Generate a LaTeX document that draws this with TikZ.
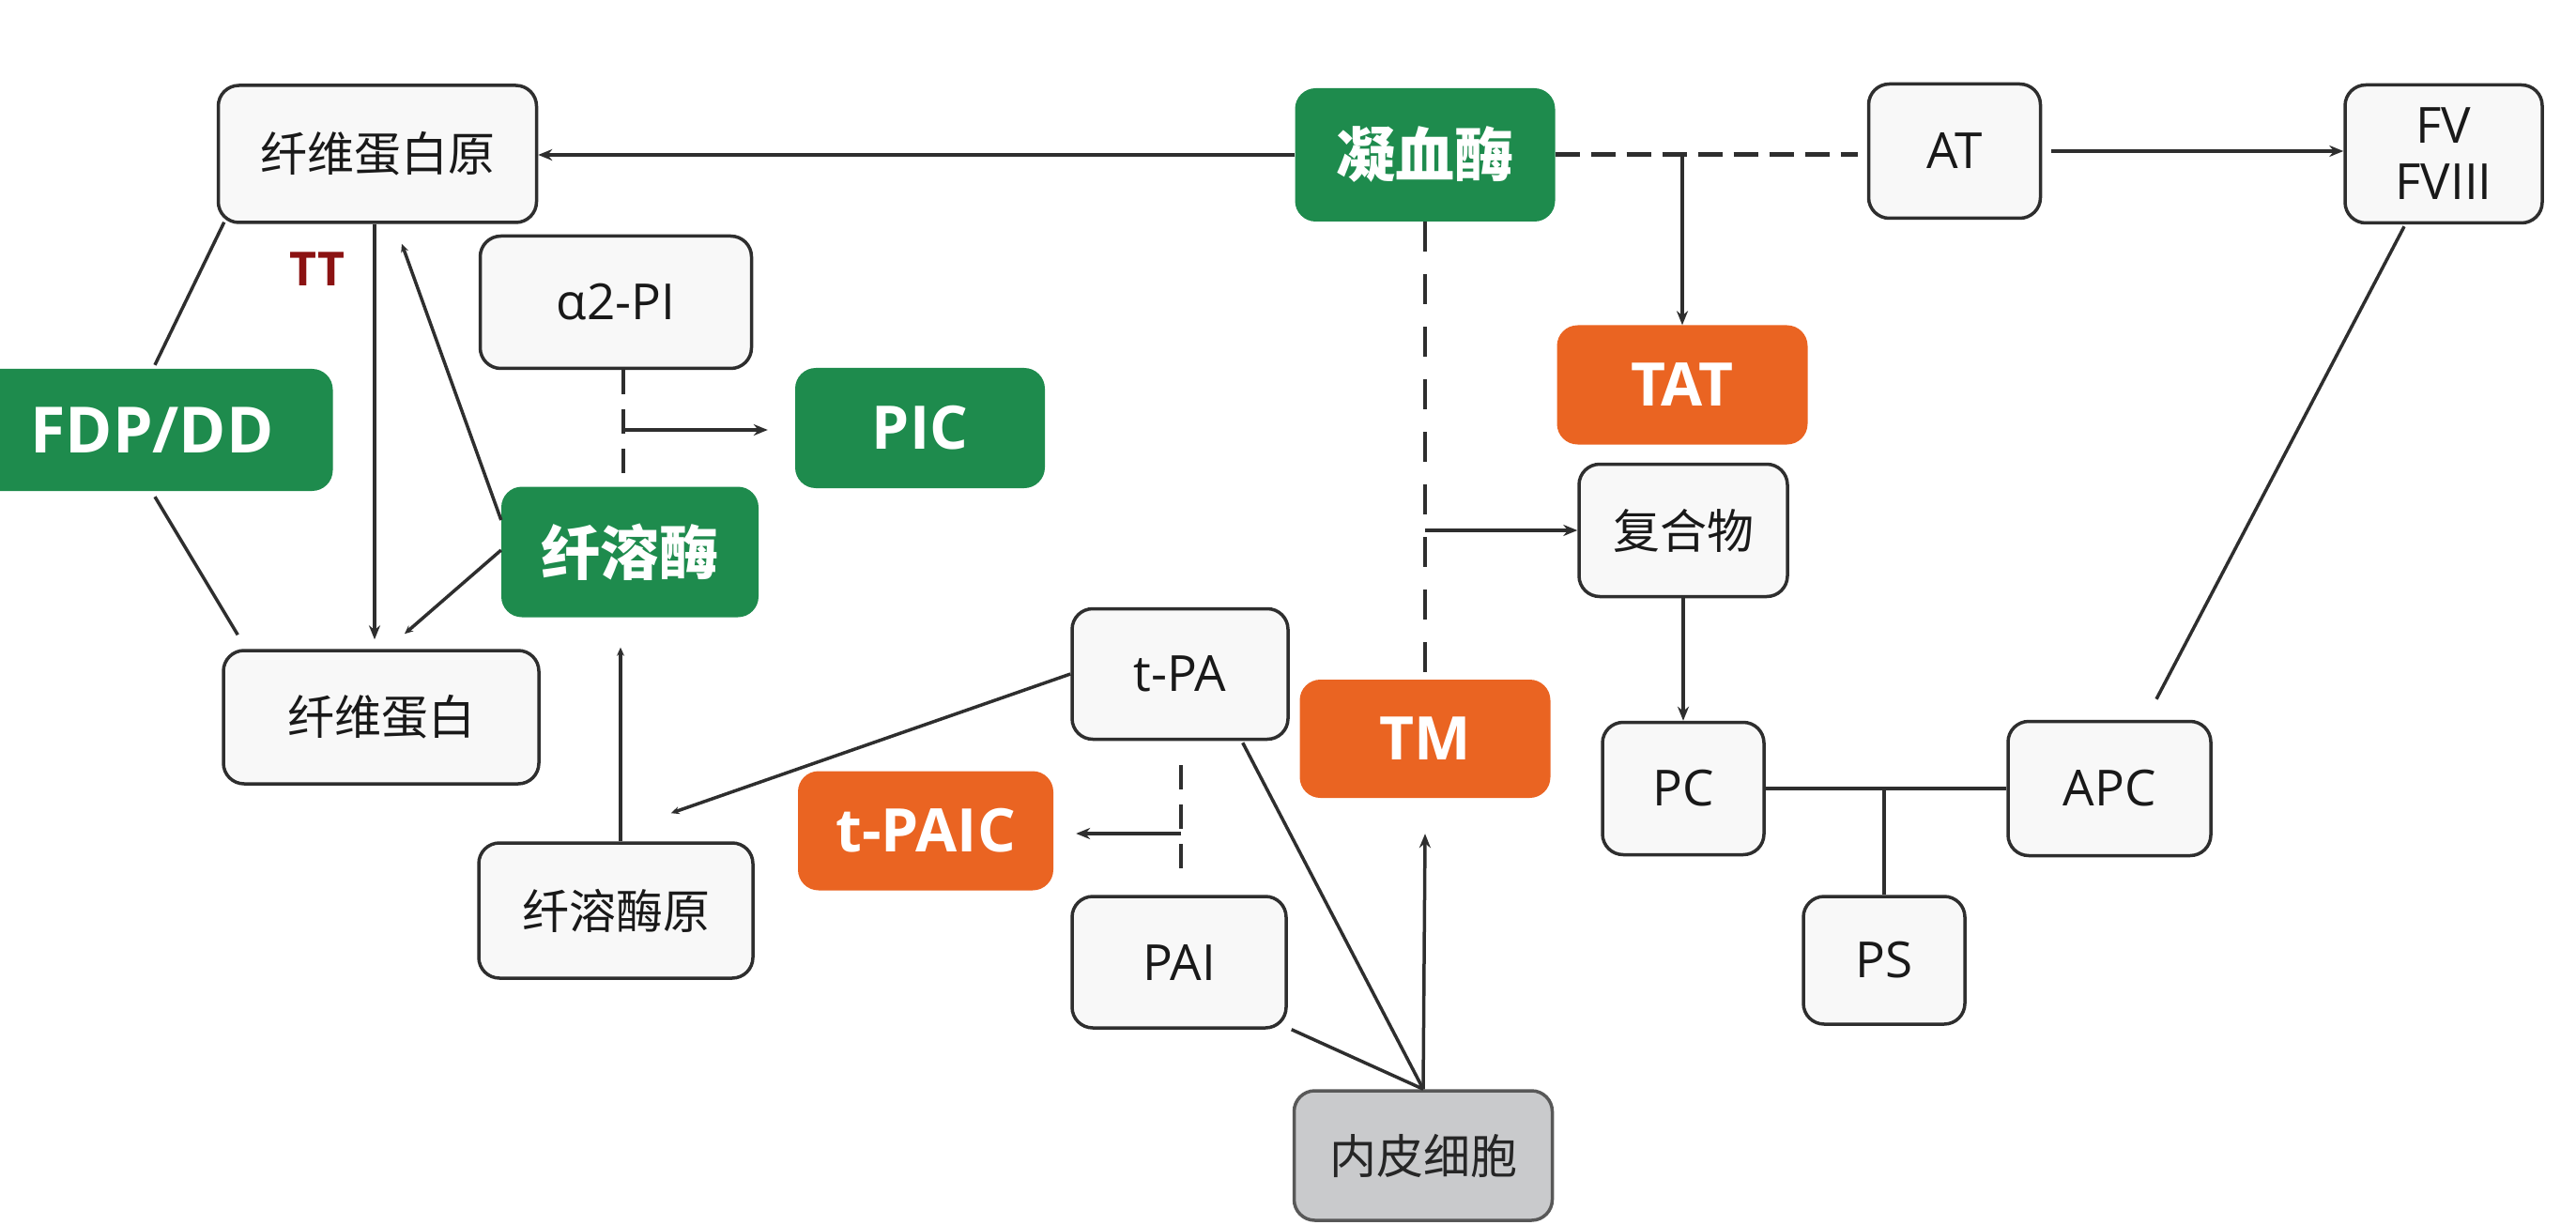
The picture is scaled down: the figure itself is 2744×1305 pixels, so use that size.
\documentclass[tikz,border=0pt]{standalone}
\usepackage{fontspec}
\setmainfont{Noto Sans CJK SC}
\newfontfamily\lat{Open Sans}
\usetikzlibrary{arrows.meta,calc}
\definecolor{gr}{HTML}{1E8B4D}
\definecolor{og}{HTML}{EA6422}
\definecolor{lg}{HTML}{C9CACC}
\definecolor{ln}{HTML}{2E2E2E}
\definecolor{bx}{HTML}{F8F8F8}
\definecolor{ttc}{HTML}{8B1212}
\tikzset{
  box/.style={rounded corners=22pt, inner sep=0pt, align=center},
  wb/.style={box, draw=ln, line width=3.5pt, fill=bx, text=black!90},
  gb/.style={box, fill=gr, text=white, font=\bfseries\fontsize{63}{70}\selectfont},
  ob/.style={box, fill=og, text=white},
  eb/.style={box, draw=ln!80, line width=3.5pt, fill=lg, text=black!85},
  cn/.style={font=\fontsize{50}{58}\selectfont},
  la/.style={font=\lat\fontsize{53}{60}\selectfont},
  lb/.style={font=\lat\bfseries\fontsize{64}{70}\selectfont},
  conn/.style={draw=ln, line width=3.5pt},
  arr/.style={conn, -{Stealth[length=15pt,width=12pt]}},
  tip/.style={conn, -{Stealth[length=9pt,width=8pt]}},
  dshA/.style={draw=ln, line width=5pt, dash pattern=on 26pt off 12pt},
  dshB/.style={draw=ln, line width=4.5pt, dash pattern=on 32pt off 24pt},
  dshC/.style={draw=ln, line width=4pt, dash pattern=on 26pt off 16pt},
}
\begin{document}
\begin{tikzpicture}[x=1pt,y=-1pt]
\useasboundingbox (0,0) rectangle (2744,1305);
\clip (0,0) rectangle (2744,1305);
\fill[white] (0,0) rectangle (2744,1305);

% nodes
\node[wb,cn,minimum width=339pt,minimum height=146pt] (fbg) at (402,164) {纤维蛋白原};
\node[gb,lb,minimum width=385pt,minimum height=130pt,font=\lat\bfseries\fontsize{68}{74}\selectfont] (fdp) at (162,458) {FDP/DD};
\node[wb,la,minimum width=289pt,minimum height=141pt] (a2pi) at (656,322) {α2-PI};
\node[gb,lb,minimum width=266pt,minimum height=128pt] (pic) at (980,456) {PIC};
\node[gb,minimum width=274pt,minimum height=139pt] (plasmin) at (671,588) {纤溶酶};
\node[wb,cn,minimum width=336pt,minimum height=142pt] (fibrin) at (406,764) {纤维蛋白};
\node[wb,cn,minimum width=292pt,minimum height=144pt] (plg) at (656,970) {纤溶酶原};
\node[wb,la,minimum width=230pt,minimum height=139pt] (tpa) at (1257,718) {t-PA};
\node[ob,lb,minimum width=272pt,minimum height=127pt] (tpaic) at (986,885) {t-PAIC};
\node[wb,la,minimum width=228pt,minimum height=140pt] (pai) at (1256,1025) {PAI};
\node[ob,lb,minimum width=267pt,minimum height=126pt] (tm) at (1518,787) {TM};
\node[eb,cn,minimum width=275pt,minimum height=138pt] (endo) at (1516,1231) {内皮细胞};
\node[gb,minimum width=277pt,minimum height=142pt] (thr) at (1518,165) {凝血酶};
\node[wb,la,minimum width=183pt,minimum height=143pt] (at) at (2082,161) {AT};
\node[wb,la,minimum width=210pt,minimum height=147pt] (fv) at (2603,164) {FV\\FVIII};
\node[ob,lb,minimum width=267pt,minimum height=127pt] (tat) at (1792,410) {TAT};
\node[wb,cn,minimum width=222pt,minimum height=141pt] (cplx) at (1793,565) {复合物};
\node[wb,la,minimum width=172pt,minimum height=141pt] (pc) at (1793,840) {PC};
\node[wb,la,minimum width=216pt,minimum height=143pt] (apc) at (2247,840) {APC};
\node[wb,la,minimum width=172pt,minimum height=136pt] (ps) at (2007,1023) {PS};
\node[font=\lat\bfseries\fontsize{50}{56}\selectfont, text=ttc] (ttl) at (338,287) {TT};

% coagulation side
\draw[arr] (thr.west) -- (thr.west -| fbg.east);
\coordinate (atw) at ($(at.west)+(-10,0)$);
\draw[dshA] (thr.east) -- (thr.east -| atw);
\coordinate (tb) at (thr.east -| tat.north);
\draw[arr] (tb) -- (tat.north);
\coordinate (ate) at ($(at.east)+(10,0)$);
\draw[arr] (ate) -- (ate -| fv.west);
\draw[dshB] (thr.south) -- (tm.north);
\coordinate (cb) at (thr.south |- cplx.west);
\draw[arr] (cb) -- (cplx.west);
\draw[arr] (cplx.south) -- (pc.north);
\draw[conn] (pc.east) -- (apc.west);
\coordinate (j) at (pc.east -| ps.north);
\draw[conn] (j) -- (ps.north);
\coordinate (fvs) at ($(fv.south)+(-42,2)$);
\coordinate (apn) at ($(apc.north)+(50,-22)$);
\draw[conn] (fvs) -- (apn);

% endothelium
\draw[arr] (endo.north) -- ($(tm.south)+(0,38)$);
\draw[conn] (endo.north) -- ($(tpa.south east)+(-50,2)$);
\draw[conn] (endo.north) -- ($(pai.south east)+(4,0)$);

% t-PA / PAI
\coordinate (tpaEnd) at ($(plg.north east)+(-89,-30)$);
\draw[tip] (tpa.west) -- (tpaEnd);
\coordinate (d1) at ($(tpa.south)+(1,26)$);
\coordinate (d2) at ($(pai.north)+(2,-25)$);
\draw[dshC] (d1) -- (d1 |- d2);
\coordinate (d3) at ($(d1 |- tpaic.east)+(0,3)$);
\draw[arr] (d3) -- ($(tpaic.east)+(24,3)$);

% plasminogen -> plasmin
\coordinate (pv) at ($(plg.north)+(5,0)$);
\draw[tip] (pv) -- ($(pv |- plasmin.south)+(0,32)$);

% alpha2-PI
\coordinate (as) at ($(a2pi.south)+(8,0)$);
\draw[dshC] (as) -- (as |- plasmin.north);
\coordinate (ab) at ($(as |- pic.west)+(0,2)$);
\draw[arr] (ab) -- ($(pic.west)+(-29,2)$);

% fibrinogen / fibrin / FDP
\coordinate (fs) at ($(fbg.south)+(-3,0)$);
\draw[arr] (fs) -- ($(fs |- fibrin.north)+(0,-10)$);
\draw[conn] ($(fbg.south west)+(8,-2)$) -- ($(fdp.north)+(3,-4)$);
\draw[conn] ($(fdp.south)+(3,6)$) -- ($(fibrin.north west)+(17,-15)$);
\draw[tip] ($(plasmin.west)+(0,-34)$) -- ($(fbg.south)+(26,21)$);
\draw[tip] ($(plasmin.west)+(0,-2)$) -- ($(fibrin.north)+(25,-16)$);
\end{tikzpicture}
\end{document}
